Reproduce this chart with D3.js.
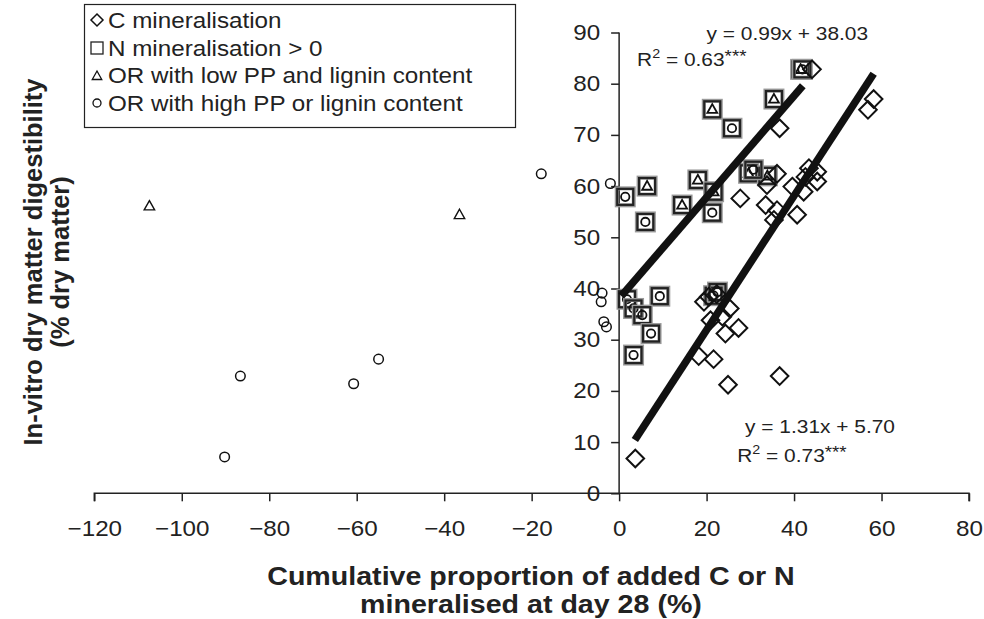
<!DOCTYPE html>
<html><head><meta charset="utf-8">
<script src="https://cdn.jsdelivr.net/npm/d3@7"></script>
<style>
body{margin:0;background:#fff;}
text{font-family:"Liberation Sans",Arial,sans-serif;fill:#222;}
</style></head>
<body><svg id="c" width="984" height="619"></svg>
<script>
// ---- data ----
const xTicks = [-120,-100,-80,-60,-40,-20,0,20,40,60,80];
const yTicks = [0,10,20,30,40,50,60,70,80,90];
// C mineralisation (diamonds)
const cMin = [[44.1,82.8],[58.2,77.0],[56.9,74.9],[36.7,71.3],[43.4,63.5],[45.3,62.8],[42.6,61.8],[45.3,60.9],[36.1,62.4],[33.8,60.2],[39.6,59.9],[42.2,58.9],[27.7,57.6],[33.5,56.3],[36.1,55.3],[35.4,53.4],[40.7,54.4],[19.4,37.4],[20.5,38.4],[22.3,38.9],[25.3,36.1],[20.9,33.8],[23.6,34.5],[24.3,31.2],[27.3,32.3],[18.2,26.8],[21.6,26.2],[24.9,21.2],[36.7,22.9],[3.7,6.8]];
// N mineralisation > 0, OR with low PP and lignin (square + triangle)
const nTri = [[21.3,75.0],[35.4,77.0],[41.5,82.8],[6.4,60.0],[18.0,61.2],[21.6,58.9],[14.4,56.3],[29.6,62.5],[33.9,62.0]];
// N mineralisation > 0, OR with high PP or lignin (square + circle)
const nCirc = [[25.8,71.3],[1.4,57.9],[21.3,54.8],[6.0,53.0],[30.7,63.2],[9.3,38.5],[1.8,37.9],[3.3,36.1],[5.3,34.8],[7.3,31.2],[3.3,27.0],[21.6,38.6],[22.5,39.3],[41.9,82.8]];
// OR with low PP and lignin content (triangles)
const orLow = [[-107.4,56.1],[-36.5,54.4]];
// OR with high PP or lignin content (circles)
const orHigh = [[-17.8,62.4],[-86.6,22.9],[-90.2,7.1],[-55.0,26.2],[-60.7,21.4],[-2.0,60.5],[-3.9,39.1],[-4.1,37.4],[-3.5,33.5],[-2.9,32.5]];
// regressions: [slope, intercept, xStart, xEnd]
const regN = [0.99, 38.03, 0.5, 42.0];
const regC = [1.31, 5.70, 3.6, 58.2];
const legendLabels = ["C mineralisation","N mineralisation > 0","OR with low PP and lignin content","OR with high PP or lignin content"];

// ---- chart ----
const svg = d3.select("#c");
const x = d3.scaleLinear().domain([-120,80]).range([94.3,969]);
const y = d3.scaleLinear().domain([0,90]).range([493.3,32.5]);
const K = 1.1; // horizontal text stretch of the reference
function stretch(sel){
  sel.each(function(){
    const l = this.getComputedTextLength();
    d3.select(this).attr("textLength", l*K).attr("lengthAdjust","spacingAndGlyphs");
  });
}

const xAxis = svg.append("g").attr("transform",`translate(0,${y(0)})`)
  .call(d3.axisBottom(x).tickValues(xTicks).tickSize(8).tickPadding(19).tickFormat(d=>d<0?"\u2212"+(-d):d));
xAxis.selectAll("text").attr("font-size",22).attr("font-family","Liberation Sans").attr("fill","#222").call(stretch);
xAxis.selectAll("line,path").attr("stroke","#222").attr("stroke-width",1.5);
xAxis.select(".domain").attr("d",`M${x(-120)},8V0H${x(80)}V8`);

const yAxis = svg.append("g").attr("transform",`translate(${x(0)},0)`)
  .call(d3.axisLeft(y).tickValues(yTicks).tickSize(8).tickPadding(11));
yAxis.selectAll("text").attr("font-size",22).attr("font-family","Liberation Sans").attr("fill","#222").call(stretch);
yAxis.selectAll("line,path").attr("stroke","#222").attr("stroke-width",1.5);
yAxis.select(".domain").attr("d",`M0,${y(90)}V${y(0)}`);

// markers
const g = svg.append("g");
function diamond(sel, px, py, r, w){
  sel.append("path").attr("d",`M${px},${py-r}L${px+r},${py}L${px},${py+r}L${px-r},${py}Z`)
    .attr("fill","none").attr("stroke","#111").attr("stroke-width",w||2);
}
function square(sel, px, py){
  sel.append("rect").attr("x",px-8.5).attr("y",py-8.5).attr("width",17).attr("height",17)
    .attr("fill","none").attr("stroke","#999").attr("stroke-width",4);
  sel.append("rect").attr("x",px-8).attr("y",py-8).attr("width",16).attr("height",16)
    .attr("fill","none").attr("stroke","#222").attr("stroke-width",2.2);
}
function tri(sel, px, py, r, w){
  sel.append("path").attr("d",`M${px},${py-r}L${px+r*0.95},${py+r*0.7}L${px-r*0.95},${py+r*0.7}Z`)
    .attr("fill","none").attr("stroke","#111").attr("stroke-width",w);
}
function circ(sel, px, py, r, w){
  sel.append("circle").attr("cx",px).attr("cy",py).attr("r",r)
    .attr("fill","none").attr("stroke","#111").attr("stroke-width",w);
}
orHigh.forEach(d=>circ(g,x(d[0]),y(d[1]),4.8,1.5));
orLow.forEach(d=>tri(g,x(d[0]),y(d[1]),5.5,1.4));
nTri.forEach(d=>{square(g,x(d[0]),y(d[1])); tri(g,x(d[0]),y(d[1]),5.2,1.8);});
nCirc.forEach(d=>{square(g,x(d[0]),y(d[1])); circ(g,x(d[0]),y(d[1]),4.2,1.8);});
cMin.forEach(d=>diamond(g,x(d[0]),y(d[1]),8.8,2));

// regression lines
[regN, regC].forEach(r=>{
  svg.append("line").attr("x1",x(r[2])).attr("y1",y(r[0]*r[2]+r[1]))
    .attr("x2",x(r[3])).attr("y2",y(r[0]*r[3]+r[1]))
    .attr("stroke","#111").attr("stroke-width",7.5);
});

// equations
function eq(px, py, txt){ svg.append("text").attr("x",px).attr("y",py).attr("font-size",19).text(txt).call(stretch); }
function r2(px, py, val){
  const t = svg.append("text").attr("x",px).attr("y",py).attr("font-size",19);
  t.append("tspan").text("R");
  t.append("tspan").attr("font-size",13).attr("dy",-8).text("2");
  t.append("tspan").attr("dy",8).text(" = "+val);
  t.append("tspan").attr("font-size",17).attr("dy",-4).text("***");
  t.call(stretch);
}
eq(x(20.0), y(88.6), "y = 0.99x + 38.03");
r2(x(4.1), y(83.5), "0.63");
eq(x(28.8), y(11.8), "y = 1.31x + 5.70");
r2(x(27.0), y(6.2), "0.73");

// legend
const lg = svg.append("g");
const lbox = lg.append("rect").attr("x",84.5).attr("y",4.5).attr("height",123)
  .attr("fill","#fff").attr("stroke","#222").attr("stroke-width",1.2);
const rows = [20,48,75,103];
let maxR = 0;
legendLabels.forEach((t,i)=>{
  const tx = lg.append("text").attr("x",108).attr("y",rows[i]+8).attr("font-size",22).text(t).call(stretch);
  maxR = Math.max(maxR, 108 + tx.node().getComputedTextLength()*K);
});
lbox.attr("width", maxR + 7 - 84.5);
diamond(lg,97,rows[0],6,1.5);
lg.append("rect").attr("x",91).attr("y",rows[1]-6).attr("width",12).attr("height",12).attr("fill","none").attr("stroke","#222").attr("stroke-width",1.3);
tri(lg,97,rows[2]+1,5,1.3);
circ(lg,97,rows[3],4,1.3);

// axis titles
svg.append("text").attr("x",531).attr("y",585).attr("text-anchor","middle").attr("font-size",26).attr("font-weight","bold").text("Cumulative proportion of added C or N").call(stretch);
svg.append("text").attr("x",531).attr("y",613).attr("text-anchor","middle").attr("font-size",26).attr("font-weight","bold").text("mineralised at day 28 (%)").call(stretch);
svg.append("text").attr("transform","translate(42,262) rotate(-90)").attr("text-anchor","middle").attr("font-size",25.5).attr("font-weight","bold").text("In-vitro dry matter digestibility");
svg.append("text").attr("transform","translate(69,262) rotate(-90)").attr("text-anchor","middle").attr("font-size",25.5).attr("font-weight","bold").text("(% dry matter)");
</script></body></html>
